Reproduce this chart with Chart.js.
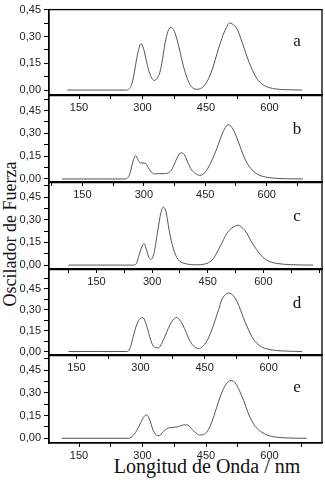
<!DOCTYPE html>
<html>
<head>
<meta charset="utf-8">
<script src="https://cdn.jsdelivr.net/npm/chart.js@4.4.1/dist/chart.umd.min.js"></script>
<style>
  body { margin: 0; background: #fff; width: 325px; height: 480px; position: relative; overflow: hidden; }
  canvas { position: absolute; left: 0; }
  .serif { position: absolute; font-family: "Liberation Serif", "Times New Roman", serif; color: #111; white-space: nowrap; }
</style>
</head>
<body>
<div class="serif" id="ytitle" style="left:10px;top:234px;font-size:18px;transform:translate(-50%,-50%) rotate(-90deg);">Oscilador de Fuerza</div>
<div class="serif" id="xtitle" style="left:207px;top:466px;font-size:20px;transform:translate(-50%,-50%);">Longitud de Onda / nm</div>
<script>
// wavelengths (nm) and oscillator strengths
const waveA = [122, 200, 262, 268, 274, 280, 285, 290, 296, 302, 308, 314, 320, 328, 335, 341, 347, 353, 360, 367, 375, 383, 390, 397, 405, 412, 420, 428, 437, 445, 452, 460, 468, 476, 484, 491, 498, 505, 513, 523, 532, 540, 548, 556, 564, 572, 580, 590, 600, 615, 635, 655, 677];
const fuerzaA = [0, 0, 0, 0.006, 0.03, 0.09, 0.16, 0.22, 0.26, 0.235, 0.175, 0.115, 0.075, 0.054, 0.068, 0.1, 0.17, 0.26, 0.33, 0.353, 0.33, 0.27, 0.2, 0.13, 0.07, 0.03, 0.01, 0.004, 0.008, 0.022, 0.046, 0.085, 0.14, 0.205, 0.265, 0.315, 0.35, 0.377, 0.37, 0.345, 0.29, 0.235, 0.18, 0.13, 0.09, 0.058, 0.038, 0.022, 0.013, 0.006, 0.002, 0.001, 0];

const waveB = [100, 200, 255, 260, 266, 273, 280, 286, 292, 300, 305, 310, 318, 326, 335, 347, 359, 367, 375, 383, 391, 399, 407, 415, 426, 437, 448, 458, 468, 478, 488, 497, 506, 515, 525, 535, 545, 557, 573, 590, 606, 630, 660, 689];
const fuerzaB = [0, 0, 0, 0.006, 0.035, 0.11, 0.154, 0.126, 0.105, 0.104, 0.1, 0.078, 0.046, 0.033, 0.035, 0.035, 0.039, 0.057, 0.1, 0.148, 0.172, 0.159, 0.111, 0.067, 0.035, 0.024, 0.039, 0.078, 0.133, 0.198, 0.274, 0.328, 0.357, 0.339, 0.285, 0.213, 0.143, 0.083, 0.039, 0.017, 0.009, 0.003, 0.001, 0];

const waveC = [74, 150, 250, 257, 263, 272, 278, 285, 290, 296, 305, 314, 323, 330, 337, 346, 357, 370, 388, 420, 440, 456, 467, 478, 490, 501, 510, 519, 525, 532, 541, 550, 559, 568, 577, 586, 597, 609, 622, 636, 671, 734];
const fuerzaC = [0, 0, 0, 0.008, 0.05, 0.12, 0.143, 0.1, 0.06, 0.037, 0.077, 0.209, 0.34, 0.384, 0.358, 0.23, 0.11, 0.037, 0.011, 0.002, 0.006, 0.022, 0.05, 0.099, 0.155, 0.209, 0.235, 0.253, 0.26, 0.264, 0.252, 0.23, 0.195, 0.154, 0.12, 0.088, 0.056, 0.033, 0.019, 0.011, 0.003, 0];

const waveD = [131, 200, 268, 275, 283, 292, 299, 305, 311, 316, 323, 330, 336, 342, 350, 357, 365, 373, 379, 385, 392, 399, 407, 414, 424, 436, 445, 455, 465, 475, 483, 490, 498, 506, 514, 522, 530, 537, 545, 553, 562, 572, 584, 596, 610, 627, 650, 678];
const fuerzaD = [0, 0, 0, 0.02, 0.108, 0.2, 0.235, 0.243, 0.215, 0.167, 0.09, 0.038, 0.028, 0.026, 0.06, 0.108, 0.165, 0.214, 0.235, 0.243, 0.225, 0.19, 0.135, 0.085, 0.04, 0.021, 0.035, 0.073, 0.14, 0.226, 0.3, 0.368, 0.405, 0.419, 0.41, 0.38, 0.33, 0.273, 0.21, 0.155, 0.1, 0.061, 0.032, 0.019, 0.01, 0.005, 0.002, 0];

const waveE = [109, 200, 266, 275, 286, 296, 304, 310, 316, 324, 332, 340, 349, 361, 373, 385, 397, 405, 414, 424, 435, 444, 454, 464, 474, 483, 493, 503, 511, 519, 529, 539, 549, 558, 570, 582, 594, 610, 630, 660, 688];
const fuerzaE = [0, 0, 0, 0.011, 0.05, 0.105, 0.145, 0.154, 0.127, 0.061, 0.022, 0.018, 0.044, 0.068, 0.072, 0.077, 0.088, 0.088, 0.068, 0.04, 0.022, 0.024, 0.05, 0.11, 0.193, 0.27, 0.336, 0.375, 0.38, 0.365, 0.314, 0.248, 0.171, 0.116, 0.066, 0.04, 0.022, 0.01, 0.004, 0.001, 0];

const xTicks = [75, 150, 225, 300, 375, 450, 525, 600, 675, 750];
const yTicks = [0, 0.075, 0.15, 0.225, 0.3, 0.375, 0.45, 0.525];
const panelLetters = ["a", "b", "c", "d", "e"];

// panel geometry in page pixels + axis ranges
const panels = [
  { wave: waveA, fuerza: fuerzaA, top: 9, bottom: 95, xMin: 79, xMax: 724, yMin: -0.028, yMax: 0.452, letterY: 43 },
  { wave: waveB, fuerza: fuerzaB, top: 95, bottom: 182, xMin: 68.5, xMax: 735, yMin: -0.02, yMax: 0.548, letterY: 131 },
  { wave: waveC, fuerza: fuerzaC, top: 182, bottom: 269, xMin: 22, xMax: 758, yMin: -0.026, yMax: 0.547, letterY: 218 },
  { wave: waveD, fuerza: fuerzaD, top: 269, bottom: 355, xMin: 85.6, xMax: 725, yMin: -0.025, yMax: 0.586, letterY: 305 },
  { wave: waveE, fuerza: fuerzaE, top: 355, bottom: 443, xMin: 79, xMax: 724, yMin: -0.031, yMax: 0.545, letterY: 389 },
];

const tickFont = { family: "'Liberation Sans', Arial, sans-serif", size: 11 };

const frame = {
  id: "frame",
  afterDraw(chart) {
    const { ctx, chartArea: a } = chart;
    ctx.save();
    ctx.strokeStyle = "#000";
    ctx.lineWidth = 1.3;
    ctx.strokeRect(a.left, a.top, a.right - a.left, a.bottom - a.top);
    ctx.restore();
  },
};

panels.forEach((p, i) => {
  const padTop = 9, axisH = 20;
  const canvas = document.createElement("canvas");
  canvas.width = 325;
  canvas.height = p.bottom - p.top + padTop + axisH;
  canvas.style.top = (p.top - padTop) + "px";
  document.body.appendChild(canvas);

  new Chart(canvas, {
    type: "line",
    data: {
      datasets: [{
        data: p.wave.map((w, k) => ({ x: w, y: p.fuerza[k] })),
        borderColor: "#555",
        borderWidth: 1,
        pointRadius: 0,
        fill: false,
        cubicInterpolationMode: "monotone",
      }],
    },
    options: {
      responsive: false,
      animation: false,
      devicePixelRatio: 1,
      layout: { padding: { left: 0, right: 3, top: padTop, bottom: 0 } },
      plugins: { legend: { display: false }, tooltip: { enabled: false } },
      scales: {
        x: {
          type: "linear",
          min: p.xMin,
          max: p.xMax,
          afterBuildTicks: (s) => { s.ticks = xTicks.filter((v) => v >= s.min && v <= s.max).map((v) => ({ value: v })); },
          afterFit: (s) => { s.height = axisH; },
          grid: { drawOnChartArea: false, tickLength: 4, color: "#000" },
          border: { color: "#000", width: 1.3 },
          ticks: {
            autoSkip: false, maxRotation: 0, padding: 2, color: "#222", font: tickFont,
            callback: (v) => (v % 150 === 0 && v >= 150 && v <= 600 ? String(v) : ""),
          },
        },
        y: {
          min: p.yMin,
          max: p.yMax,
          afterBuildTicks: (s) => { s.ticks = yTicks.filter((v) => v <= s.max + 1e-9).map((v) => ({ value: v })); },
          afterFit: (s) => { s.width = 49; },
          grid: { drawOnChartArea: false, tickLength: 5, color: "#000" },
          border: { color: "#000", width: 1.3 },
          ticks: {
            autoSkip: false, padding: 3, color: "#222", font: tickFont,
            callback: (v) => (Math.round(v * 100) % 15 === 0 ? v.toFixed(2).replace(".", ",") : ""),
          },
        },
      },
    },
    plugins: [frame],
  });

  const letter = document.createElement("div");
  letter.className = "serif";
  letter.textContent = panelLetters[i];
  letter.style.cssText = "left:297px;top:" + (p.letterY - 2) + "px;font-size:17px;transform:translate(-50%,-50%);";
  document.body.appendChild(letter);
});
</script>
</body>
</html>
